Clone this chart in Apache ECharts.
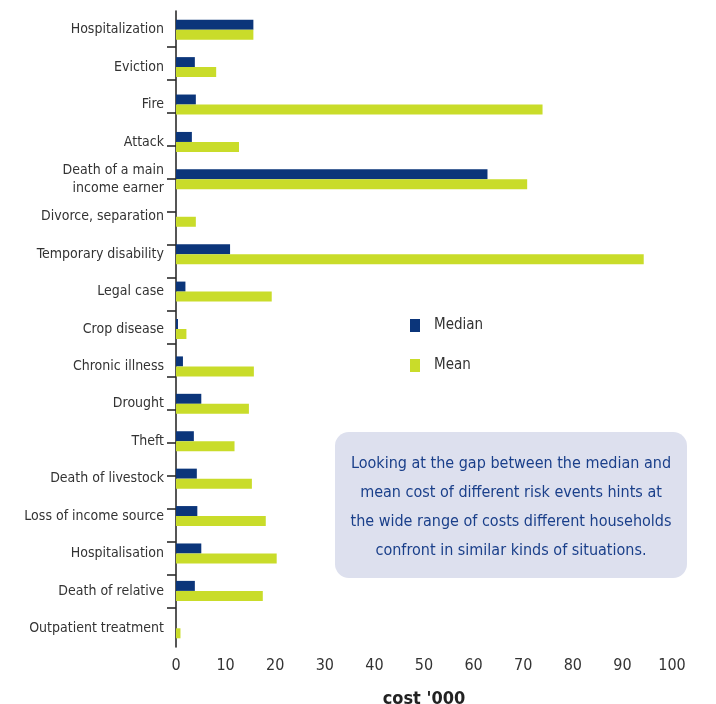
<!DOCTYPE html>
<html>
<head>
<meta charset="utf-8">
<script src="https://cdn.jsdelivr.net/npm/echarts@6/dist/echarts.min.js"></script>
<style>
  html, body { margin: 0; padding: 0; background: #fff; }
  #chart { width: 716px; height: 704px; }
</style>
</head>
<body>
<div id="chart"></div>
<script>
let categories = ['Hospitalization', 'Eviction', 'Fire', 'Attack', 'Death of a main\nincome earner',
    'Divorce, separation', 'Temporary disability', 'Legal case', 'Crop disease', 'Chronic illness',
    'Drought', 'Theft', 'Death of livestock', 'Loss of income source', 'Hospitalisation',
    'Death of relative', 'Outpatient treatment'];
let medianData = [15.6, 3.8, 4.0, 3.2, 62.8, 0, 10.9, 1.9, 0.4, 1.4, 5.1, 3.6, 4.2, 4.3, 5.1, 3.8, 0];
let meanData = [15.6, 8.1, 73.9, 12.7, 70.8, 4.0, 94.3, 19.3, 2.1, 15.7, 14.7, 11.8, 15.3, 18.1, 20.3, 17.5, 0.9];
let seriesNames = ['Median', 'Mean'];
let xTicks = [0, 100, 10]; // min, max, step
let noteText = 'Looking at the gap between the median and\nmean cost of different risk events hints at\nthe wide range of costs different households\nconfront in similar kinds of situations.';

let font = '"DejaVu Sans Condensed", "Liberation Sans Narrow", sans-serif';
let myChart = echarts.init(document.getElementById('chart'));

let option = {
    animation: false,
    color: ['#0b357a', '#c9dc2a'],
    textStyle: { fontFamily: font },
    legend: {
        orient: 'vertical',
        left: 405,
        top: 313,
        icon: 'rect',
        itemWidth: 10,
        itemHeight: 13,
        itemGap: 25,
        textStyle: { color: '#333', fontSize: 15, fontFamily: font, padding: [0, 0, 0, 9] },
        data: seriesNames
    },
    grid: [
        { left: 176, right: 44, top: 11, bottom: 57, containLabel: false, outerBoundsMode: 'none' },
        // second grid only carries the left tick marks
        { left: 176, right: 44, top: 47, bottom: 96, containLabel: false, outerBoundsMode: 'none' }
    ],
    xAxis: [{
        type: 'value',
        min: xTicks[0],
        max: xTicks[1],
        interval: xTicks[2],
        axisLine: { show: false },
        axisTick: { show: false },
        splitLine: { show: false },
        axisLabel: { color: '#333', fontSize: 16, fontFamily: font, margin: 11 },
        name: "cost '000",
        nameLocation: 'middle',
        nameGap: 43,
        nameTextStyle: { color: '#222', fontSize: 18, fontWeight: 'bold', fontFamily: font }
    }, {
        gridIndex: 1,
        type: 'value',
        show: false
    }],
    yAxis: [{
        type: 'category',
        inverse: true,
        data: categories,
        axisLine: { lineStyle: { color: '#2b2b2b', width: 1.6 } },
        axisTick: { show: false },
        axisLabel: { color: '#333', fontSize: 14, fontFamily: font, margin: 12, lineHeight: 18 }
    }, {
        gridIndex: 1,
        type: 'value',
        inverse: true,
        min: 0,
        max: 17,
        interval: 1,
        axisLine: { show: false },
        axisLabel: { show: false },
        splitLine: { show: false },
        axisTick: { show: true, length: 9, lineStyle: { color: '#2b2b2b', width: 1.6 } }
    }],
    series: [{
        name: seriesNames[0],
        type: 'bar',
        data: medianData,
        barWidth: 10,
        barGap: '0%'
    }, {
        name: seriesNames[1],
        type: 'bar',
        data: meanData,
        barWidth: 10,
        barGap: '0%'
    }],
    graphic: [{
        type: 'group',
        left: 335,
        top: 432,
        children: [{
            type: 'rect',
            shape: { x: 0, y: 0, width: 352, height: 146, r: 14 },
            style: { fill: '#dde0ee' }
        }, {
            type: 'text',
            x: 176,
            y: 75,
            style: {
                text: noteText,
                fill: '#1a3f8a',
                font: '16px ' + font,
                lineHeight: 29,
                align: 'center',
                verticalAlign: 'middle'
            }
        }]
    }]
};

myChart.setOption(option);
</script>
</body>
</html>
